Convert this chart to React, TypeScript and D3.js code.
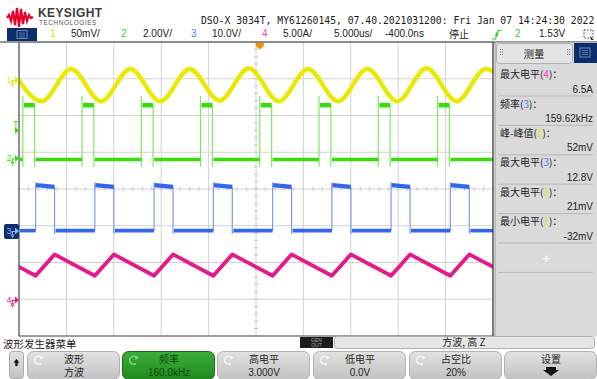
import React from "react";
import * as d3 from "d3";

// ---------- DATA ----------
const timeSpan = [0, 50]; // µs over 10 div (5.000 µs/div)
const triggerDelay = -0.4; // µs
const triggerLevel = 1.53; // V on ch2

const channelNames = ["1", "2", "3", "4"];
const channelScaleLabels = ["50mV/", "2.00V/", "10.0V/", "5.00A/"];
const channelPerDiv = [50, 2, 10, 5];

// Ch1 (yellow, mV): sine extrema
const ch1Time = [-0.75, 2.4, 5.5, 8.65, 11.75, 14.9, 18.0, 21.15, 24.25, 27.4, 30.5, 33.65, 36.75, 39.9, 43.0, 46.15, 49.25, 52.4];
const ch1Value = [15, -29, 15, -29, 15, -29, 15, -28, 16, -29, 15, -29, 15, -29, 16, -29, 15, -29];

// Ch2 (green, V): 160 kHz square, 20 % duty
const ch2Rise = [0.4, 6.65, 12.9, 19.15, 25.4, 31.65, 37.9, 44.15];
const ch2Fall = [1.65, 7.9, 14.15, 20.4, 26.65, 32.9, 39.15, 45.4];
const ch2Level = [2.9, -0.05]; // high, low
const ch2Spike = [3.4, -0.45]; // overshoot, undershoot

// Ch3 (blue, V)
const ch3Rise = [1.75, 8.0, 14.25, 20.5, 26.75, 33.0, 39.25, 45.5];
const ch3Fall = [3.75, 10.0, 16.25, 22.5, 28.75, 35.0, 41.25, 47.5];
const ch3High = [12.5, 12.0]; // start, end of plateau
const ch3Low = 0.1;
const ch3Spike = [13.3, -0.8];

// Ch4 (magenta, A): triangle vertices
const ch4Time = [-2.5, 1.75, 3.75, 8.0, 10.0, 14.25, 16.25, 20.5, 22.5, 26.75, 28.75, 33.0, 35.0, 39.25, 41.25, 45.5, 47.5, 51.75];
const ch4Value = [6.2, 3.3, 6.2, 3.3, 6.2, 3.3, 6.2, 3.3, 6.2, 3.3, 6.2, 3.3, 6.2, 3.3, 6.2, 3.3, 6.2, 3.3];

// Measurements
const measLabels = ["最大电平(", "频率(", "峰-峰值(", "最大电平(", "最大电平(", "最小电平("];
const measSources = ["4", "3", "1", "3", "1", "1"];
const measValues = ["6.5A", "159.62kHz", "52mV", "12.8V", "21mV", "-32mV"];

// Soft keys
const keyLabels = ["波形", "频率", "高电平", "低电平", "占空比", "设置"];
const keyValues = ["方波", "160.0kHz", "3.000V", "0.0V", "20%", ""];

const headerText = "DSO-X 3034T, MY61260145, 07.40.2021031200: Fri Jan 07 14:24:30 2022";

// ---------- STYLE ----------
const chColors = ["#e8e800", "#38dc0c", "#3466ec", "#e6198a"];
const chLabelColors = ["#e6e600", "#3ccc3c", "#4a7cff", "#ff3cb4"];
const SANS = "'Liberation Sans', Arial, sans-serif";
const CJK = "'Noto Sans CJK SC', 'Liberation Sans', sans-serif";
const MONO = "'DejaVu Sans Mono', monospace";

export default function App() {
  const L = 19, R = 493, T = 42, B = 336;
  const x = d3.scaleLinear().domain(timeSpan).range([L, R]);
  const divY = d3.scaleLinear().domain([-4, 4]).range([B, T]);
  const groundDiv = [2.966, 0.83, -1.143, -3.02];
  const ys = groundDiv.map((g, i) =>
    d3.scaleLinear().domain([(-4 - g) * channelPerDiv[i], (4 - g) * channelPerDiv[i]]).range([B, T])
  );

  const ch1Line = d3.line<number>().x((_, i) => x(ch1Time[i])).y((v) => ys[0](v)).curve(d3.curveMonotoneX);
  const ch4Line = d3.line<number>().x((_, i) => x(ch4Time[i])).y((v) => ys[3](v));

  const vLines = d3.range(0, 11).map((i) => x(i * 5));
  const hLines = d3.range(-4, 5).map((d) => divY(d));
  const cx = x(25), cy = divY(0);
  const xTicks = d3.range(0, 50.01, 1).map((t) => x(t));
  const yTicks = d3.range(-4, 4.01, 0.2).map((d) => divY(d));

  const ch2HighSegs = ch2Rise.map((r, i) => [r, ch2Fall[i]]);
  const ch2LowSegs = [[timeSpan[0], ch2Rise[0]], ...ch2Fall.map((f, i) => [f, i + 1 < ch2Rise.length ? ch2Rise[i + 1] : timeSpan[1]])];
  const ch3LowSegs = [[timeSpan[0], ch3Rise[0]], ...ch3Fall.map((f, i) => [f, i + 1 < ch3Rise.length ? ch3Rise[i + 1] : timeSpan[1]])];

  const trigX = x(25 - triggerDelay);
  const trigY = ys[1](triggerLevel);

  const keyX = [27, 122, 217, 313, 409, 504];
  const sepY = d3.range(0, 8).map((k) => 66.6 + k * 29.4);

  const marker = (i: number) => {
    const y = ys[i](0);
    const col = chColors[i];
    const sel = i === 2;
    return (
      <g key={"m" + i}>
        {sel && <rect x={4} y={y - 7} width={15} height={15} rx={2} fill="#0e2f6e" />}
        <text x={6.5} y={y + 3} fontSize={9} fontFamily={SANS} fill={sel ? "#8fb4ff" : col}>{channelNames[i]}</text>
        <path d={`M11.5,${y + 0.5} H15 M12.5,${y + 0.5} V${y + 4} M10.5,${y + 4} H14.5 M11.3,${y + 5.5} H13.7 M12,${y + 7} H13`} stroke={sel ? "#8fb4ff" : col} strokeWidth={1} fill="none" />
        <path d={`M15,${y - 3.5} L19,${y} L15,${y + 3.5} Z`} fill={sel ? "#8fb4ff" : col} />
      </g>
    );
  };

  return (
    <div style={{ position: "absolute", left: 0, top: 0 }}>
      <svg width={597} height={379} style={{ display: "block" }}>
        <defs>
          <clipPath id="plot"><rect x={L} y={T} width={R - L} height={B - T} /></clipPath>
          <linearGradient id="key" x1="0" x2="0" y1="0" y2="1">
            <stop offset="0" stopColor="#e2e2e2" />
            <stop offset="1" stopColor="#c2c2c2" />
          </linearGradient>
          <linearGradient id="keyG" x1="0" x2="0" y1="0" y2="1">
            <stop offset="0" stopColor="#3aae3a" />
            <stop offset="1" stopColor="#1f8a1f" />
          </linearGradient>
        </defs>
        <rect width={597} height={379} fill="#ffffff" />

        {/* Logo */}
        <polyline points="7,18 9,15 11,21 13,11 15,25 17,8 19,27 21,9 23,24 25,12 27,21 29,15 31,18 33,17" fill="none" stroke="#e4002b" strokeWidth={2.2} strokeLinejoin="miter" />
        <text x={38} y={16.8} fontSize={12} fontWeight="bold" fontFamily={SANS} fill="#3c3c3c" letterSpacing={0.4}>KEYSIGHT</text>
        <text x={39} y={25.2} fontSize={6.4} fontFamily={SANS} fill="#555" letterSpacing={0.6}>TECHNOLOGIES</text>
        <text x={201} y={24} fontSize={9.75} fontFamily={MONO} fill="#1a1a1a">{headerText}</text>

        {/* Settings row */}
        <rect x={7} y={28} width={30} height={13} fill="#0c2d6b" />
        <rect x={17} y={30.5} width={10} height={8} fill="none" stroke="#6f86b0" strokeWidth={1} />
        <path d="M19,33 H25 M19,35 H25 M19,37 H25" stroke="#6f86b0" strokeWidth={0.8} />
        {channelNames.map((n, i) => (
          <g key={"cs" + i}>
            <text x={[50, 121, 191, 262][i]} y={37} fontSize={10} fontFamily={SANS} fill={chLabelColors[i]}>{n}</text>
            <text x={[71, 143, 212, 283][i]} y={37} fontSize={10} fontFamily={SANS} fill="#222">{channelScaleLabels[i]}</text>
          </g>
        ))}
        <text x={334} y={37} fontSize={10} fontFamily={SANS} fill="#222">5.000us/</text>
        <text x={385} y={37} fontSize={10} fontFamily={SANS} fill="#222">-400.0ns</text>
        <text x={449} y={37.5} fontSize={10} fontFamily={CJK} fill="#222">停止</text>
        <path d="M492,39 H495.5 L498,30.5 H501" stroke="#38c838" strokeWidth={1.2} fill="none" />
        <path d="M494.5,35.5 L497,32 L498.5,36 Z" fill="#38c838" />
        <text x={515} y={37} fontSize={10} fontFamily={SANS} fill="#38c838">2</text>
        <text x={539} y={37} fontSize={10} fontFamily={SANS} fill="#222">1.53V</text>
        <rect x={584} y={30} width={9} height={8} fill="none" stroke="#333" strokeWidth={1} strokeDasharray="1.5,1.5" />
        <path d="M590,36 L594,40 L591,40 Z" fill="#333" />

        {/* Plot area */}
        <rect x={L} y={T} width={R - L} height={B - T} fill="#ffffff" />
        {vLines.map((v, i) => (
          <line key={"v" + i} x1={v} x2={v} y1={T} y2={B} stroke="#d2d2d2" strokeWidth={1} />
        ))}
        {hLines.map((h, i) => (
          <line key={"h" + i} x1={L} x2={R} y1={h} y2={h} stroke="#d2d2d2" strokeWidth={1} />
        ))}
        {xTicks.map((t, i) => (
          <line key={"xt" + i} x1={t} x2={t} y1={cy - 2} y2={cy + 2} stroke="#c8c8c8" />
        ))}
        {yTicks.map((t, i) => (
          <line key={"yt" + i} x1={cx - 2} x2={cx + 2} y1={t} y2={t} stroke="#c8c8c8" />
        ))}

        <g clipPath="url(#plot)">
          {/* ch1 */}
          <path d={ch1Line(ch1Value) || ""} fill="none" stroke="#f2f27a" strokeWidth={5.5} strokeOpacity={0.6} />
          <path d={ch1Line(ch1Value) || ""} fill="none" stroke={chColors[0]} strokeWidth={3.8} />

          {/* ch2 */}
          {ch2Rise.map((r, i) => (
            <line key={"g2r" + i} x1={x(r)} x2={x(r)} y1={ys[1](ch2Spike[1])} y2={ys[1](ch2Spike[0])} stroke="#7fe860" strokeWidth={1.2} />
          ))}
          {ch2Fall.map((f, i) => (
            <line key={"g2f" + i} x1={x(f)} x2={x(f)} y1={ys[1](ch2Level[0])} y2={ys[1](ch2Spike[1])} stroke="#7fe860" strokeWidth={1.2} />
          ))}
          {ch2HighSegs.map((s, i) => (
            <line key={"g2h" + i} x1={x(s[0]) + 1} x2={x(s[1])} y1={ys[1](ch2Level[0])} y2={ys[1](ch2Level[0])} stroke={chColors[1]} strokeWidth={4.5} />
          ))}
          {ch2LowSegs.map((s, i) => (
            <line key={"g2l" + i} x1={x(s[0]) + 1} x2={x(s[1])} y1={ys[1](ch2Level[1])} y2={ys[1](ch2Level[1])} stroke={chColors[1]} strokeWidth={3.5} />
          ))}

          {/* ch3 */}
          {ch3Rise.map((r, i) => (
            <line key={"b3r" + i} x1={x(r)} x2={x(r)} y1={ys[2](ch3Low)} y2={ys[2](ch3Spike[0])} stroke="#7d9cf0" strokeWidth={1.2} />
          ))}
          {ch3Fall.map((f, i) => (
            <line key={"b3f" + i} x1={x(f)} x2={x(f)} y1={ys[2](ch3High[1])} y2={ys[2](ch3Spike[1])} stroke="#7d9cf0" strokeWidth={1.2} />
          ))}
          {ch3Rise.map((r, i) => (
            <line key={"b3h" + i} x1={x(r) + 0.5} x2={x(ch3Fall[i])} y1={ys[2](ch3High[0])} y2={ys[2](ch3High[1])} stroke={chColors[2]} strokeWidth={4.2} />
          ))}
          {ch3LowSegs.map((s, i) => (
            <line key={"b3l" + i} x1={x(s[0]) + 1} x2={x(s[1])} y1={ys[2](ch3Low)} y2={ys[2](ch3Low)} stroke={chColors[2]} strokeWidth={3.6} />
          ))}

          {/* ch4 */}
          <path d={ch4Line(ch4Value) || ""} fill="none" stroke={chColors[3]} strokeWidth={3.8} strokeLinejoin="round" />
        </g>

        {/* Frame */}
        <line x1={0} x2={597} y1={T} y2={T} stroke="#333" strokeWidth={1.2} />
        <line x1={L} x2={L} y1={T} y2={B} stroke="#555" strokeWidth={1.2} />
        <line x1={R} x2={R} y1={T} y2={B} stroke="#333" strokeWidth={1.2} />
        <line x1={L} x2={R} y1={B} y2={B} stroke="#555" strokeWidth={1} />
        <path d={`M${trigX - 4},${T + 1} H${trigX + 4} V${T + 4} L${trigX},${T + 7.5} L${trigX - 4},${T + 4} Z`} fill="#f39200" />

        {/* Left markers */}
        {[0, 1, 2, 3].map((i) => marker(i))}
        <text x={13} y={127} fontSize={9} fontFamily={SANS} fill={chColors[1]}>T</text>
        <path d={`M15,${trigY - 3.5} L19,${trigY} L15,${trigY + 3.5} Z`} fill={chColors[1]} />

        {/* Right panel */}
        <rect x={495} y={T + 0.6} width={102} height={B - T} fill="#dadada" />
        <line x1={495} x2={495} y1={T} y2={B} stroke="#9a9a9a" />
        <rect x={496.5} y={43.5} width={76} height={20} rx={3} fill="#e4e4e4" stroke="#b0b0b0" />
        <text x={534} y={57.5} fontSize={10.5} fontFamily={CJK} fill="#222" textAnchor="middle">测量</text>
        {[0, 1, 2].map((r) => [0, 1].map((c) => (
          <g key={"gd" + r + c}>
            <rect x={500 + c * 2} y={49 + r * 2.5} width={1} height={1} fill="#777" />
            <rect x={567 + c * 2} y={49 + r * 2.5} width={1} height={1} fill="#777" />
          </g>
        )))}
        <rect x={574} y={43} width={23} height={20} fill="#0c2d6b" />
        <rect x={580} y={48} width={10} height={9} fill="none" stroke="#6f86b0" />
        <path d="M582,50.5 H588 M582,52.5 H588 M582,54.5 H588" stroke="#6f86b0" strokeWidth={0.8} />
        {measLabels.map((lab, k) => (
          <g key={"ms" + k}>
            <text x={500} y={sepY[k] + 11.5} fontSize={10} fontFamily={CJK} fill="#222">
              {lab}
              <tspan fill={chLabelColors[+measSources[k] - 1]}>{measSources[k]}</tspan>
              {")："}
            </text>
            <text x={593} y={sepY[k + 1] - 3.5} fontSize={10} fontFamily={SANS} fill="#222" textAnchor="end">{measValues[k]}</text>
            <line x1={498} x2={593} y1={sepY[k + 1]} y2={sepY[k + 1]} stroke="#b9b9b9" />
          </g>
        ))}
        <line x1={498} x2={593} y1={sepY[7]} y2={sepY[7]} stroke="#b9b9b9" />
        <text x={546} y={262.5} fontSize={13} fontFamily={SANS} fill="#f6f6f6" textAnchor="middle" fontWeight="bold">+</text>

        {/* Bottom area */}
        <text x={3} y={348} fontSize={10.5} fontFamily={CJK} fill="#222">波形发生器菜单</text>
        <rect x={300} y={337} width={33} height={11} fill="#1c1c1c" />
        <text x={316.5} y={341.8} fontSize={5} fontFamily={SANS} fill="#aaa" textAnchor="middle">GEN</text>
        <text x={316.5} y={347} fontSize={5} fontFamily={SANS} fill="#aaa" textAnchor="middle">OUT</text>
        <rect x={334.5} y={336.5} width={260} height={12} rx={3} fill="#e6e6e6" stroke="#b0b0b0" />
        <text x={464} y={346} fontSize={10} fontFamily={CJK} fill="#222" textAnchor="middle">方波, 高 Z</text>

        {/* Soft keys */}
        <rect x={9.5} y={351.5} width={14} height={27} rx={3} fill="url(#key)" stroke="#aaa" />
        <path d="M16.5,359 L19.5,362.5 H17.7 V366 H15.3 V362.5 H13.5 Z" fill="#111" />
        {keyLabels.map((lab, k) => {
          const green = k === 1;
          const kx = keyX[k];
          return (
            <g key={"k" + k}>
              <rect x={kx + 0.5} y={351.5} width={92} height={28} rx={6} fill={green ? "url(#keyG)" : "url(#key)"} stroke={green ? "#1a6a1a" : "#b0b0b0"} />
              {k < 5 && (
                <g>
                  <path d={`M${kx + 15},${358} A4,4 0 1,0 ${kx + 14},${363.5}`} fill="none" stroke={green ? "#7fd07f" : "#f4f4f4"} strokeWidth={1.6} />
                  <path d={`M${kx + 13},${355.5} L${kx + 17},${357.8} L${kx + 13.5},${360}`} fill={green ? "#7fd07f" : "#f4f4f4"} />
                </g>
              )}
              <text x={kx + 47} y={362.5} fontSize={10} fontFamily={CJK} fill={green ? "#0e4a0e" : "#262626"} textAnchor="middle">{lab}</text>
              {keyValues[k] !== "" && (
                <text x={kx + 47} y={376} fontSize={10} fontFamily={keyValues[k].match(/[a-zA-Z0-9]/) ? SANS : CJK} fill={green ? "#0e4a0e" : "#262626"} textAnchor="middle">{keyValues[k]}</text>
              )}
              {k === 5 && (
                <path d={`M${kx + 42},${367} H${kx + 52} V${370} H${kx + 55} L${kx + 47},${376} L${kx + 39},${370} H${kx + 42} Z`} fill="#111" />
              )}
            </g>
          );
        })}
      </svg>
    </div>
  );
}
